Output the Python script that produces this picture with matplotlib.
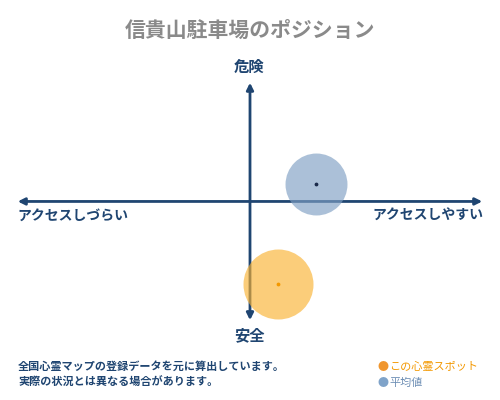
import matplotlib
matplotlib.use('Agg')
import matplotlib.pyplot as plt

plt.rcParams['font.family'] = ['Noto Sans CJK JP', 'DejaVu Sans']

# positions on the map: x = access (-1 hard .. 1 easy), y = danger (-1 safe .. 1 danger)
labels = ['この心霊スポット', '平均値']
xs = [0.12, 0.28]
ys = [-0.68, 0.14]
colors = ['#f9b233', '#7f9fc3']
dot_colors = ['#f39800', '#1a2a4a']

title = '信貴山駐車場のポジション'
axis_top, axis_bottom = '危険', '安全'
axis_left, axis_right = 'アクセスしづらい', 'アクセスしやすい'
notes = ['全国心霊マップの登録データを元に算出しています。',
         '実際の状況とは異なる場合があります。']

navy = '#1f4571'

fig = plt.figure(figsize=(5, 4), dpi=100)
ax = fig.add_axes([0, 0, 1, 1])
ax.set_xlim(-1.0638, 1.0638)
ax.set_ylim(-1.634, 1.658)
ax.axis('off')

# axes with arrows on both ends
ax.annotate('', xy=(-1, 0), xytext=(1, 0),
            arrowprops=dict(arrowstyle='<|-|>', color=navy, lw=2, mutation_scale=10))
ax.annotate('', xy=(0, 1), xytext=(0, -1),
            arrowprops=dict(arrowstyle='<|-|>', color=navy, lw=2, mutation_scale=10))

sizes = [2540, 1990]
for x, y, c, d, s in zip(xs, ys, colors, dot_colors, sizes):
    ax.scatter([x], [y], s=s, color=c, alpha=0.65, linewidths=0, zorder=3)
    ax.scatter([x], [y], s=3, color=d, zorder=4)

fig.text(0.5, 0.925, title, ha='center', va='center', fontsize=15, color='#8a8a8a', fontweight='bold')
fig.text(0.498, 0.833, axis_top, ha='center', va='center', fontsize=11, color=navy, fontweight='bold')
fig.text(0.498, 0.162, axis_bottom, ha='center', va='center', fontsize=11, color=navy, fontweight='bold')
fig.text(0.034, 0.46, axis_left, ha='left', va='center', fontsize=10, color=navy, fontweight='bold')
fig.text(0.966, 0.46, axis_right, ha='right', va='center', fontsize=10, color=navy, fontweight='bold')

for i, n in enumerate(notes):
    fig.text(0.036, 0.083 - i * 0.04, n, ha='left', va='center', fontsize=8, color=navy, fontweight='bold')

legend_text_colors = ['#f39800', '#6e8fb5']
legend_dot_colors = ['#f0962e', '#7fa3c9']
for i, (lab, tc, dc) in enumerate(zip(labels, legend_text_colors, legend_dot_colors)):
    yy = 0.083 - i * 0.04
    fig.text(0.755, yy, '●', ha='left', va='center', fontsize=8, color=dc)
    fig.text(0.778, yy, lab, ha='left', va='center', fontsize=8, color=tc)

fig.savefig('out.png', dpi=100)
